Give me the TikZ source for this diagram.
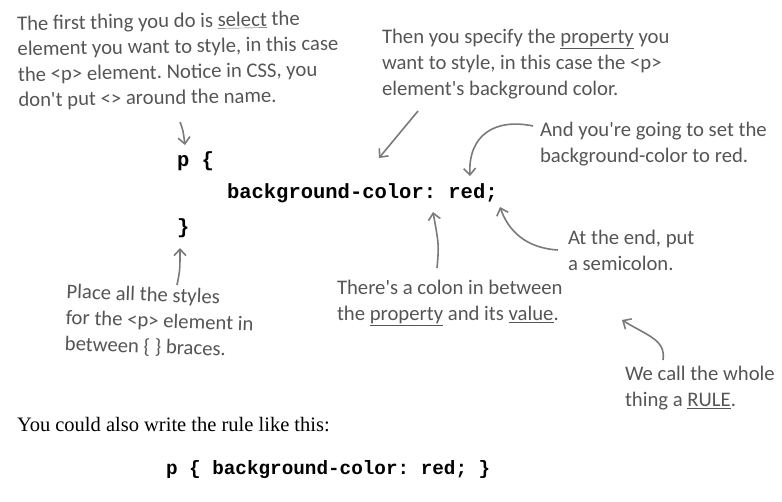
\documentclass[tikz,border=0pt]{standalone}
\usepackage{fontspec}
\setmainfont{Liberation Serif}
\newfontfamily\handfont{Carlito}
\newfontfamily\codefont{Liberation Mono}
\usetikzlibrary{arrows.meta,positioning}

\definecolor{inkgray}{HTML}{555555}
\definecolor{arrowgray}{HTML}{7A7A7A}

\newcommand{\ulword}[1]{\smash{\underline{#1}}}

\tikzset{
	every node/.style={
		inner sep=0pt,
		outer sep=0pt
	},
	note/.style={
		anchor=north west,
		align=left,
		text=inkgray,
		font=\handfont\frenchspacing\fontsize{20.7}{26}\selectfont
	},
	code/.style={
		anchor=base west,
		font=\codefont\bfseries\frenchspacing\fontsize{20.5}{24}\selectfont
	},
	body/.style={
		anchor=base west,
		font=\fontsize{20.5}{24}\selectfont
	},
	callout/.style={
		draw=arrowgray,
		line width=1.6pt,
		-{Straight Barb[length=6.5pt,width=12pt]}
	}
}

\begin{document}
\begin{tikzpicture}[x=1pt,y=-1pt]
	\useasboundingbox (0,0) rectangle (782,501);
	
	% the rule
	\node[code] (open) at (177,166) {p \{};
	\node[code] (decl) at (227,198) {background-color: red;};
	\node[code] (close) at (177,233) {\}};
	
	% notes
	\node[note, rotate=1, font=\handfont\frenchspacing\fontsize{20.7}{25.5}\selectfont] (select) at (17,16) {The first thing you do is \ulword{select} the\\
		element you want to style, in this case\\
		the <p> element. Notice in CSS, you\\
		don't put <> around the name.};
	\node[note] (property) at (382,29) {Then you specify the \ulword{property} you\\
		want to style, in this case the <p>\\
		element's background color.};
	\node[note] (value) at (540,122) {And you're going to set the\\
		background-color to red.};
	\node[note] (semi) at (568,230) {At the end, put\\
		a semicolon.};
	\node[note] (colon) at (337,280) {There's a colon in between\\
		the \ulword{property} and its \ulword{value}.};
	\node[note] (whole) at (625,366) {We call the whole\\
		thing a \ulword{RULE}.};
	\node[note, rotate=-2] (braces) at (67,284) {Place all the styles\\
		for the <p> element in\\
		between \{ \} braces.};
	
	% arrow ends
	\coordinate (s1) at (180,122);
	\coordinate (e1) at (185,145);
	\coordinate (s2) at (418,111);
	\coordinate (e2) at (379,158);
	\coordinate (s3) at (533,126);
	\coordinate (e3) at (470,176);
	\coordinate (s4) at (558,250);
	\coordinate (e4) at (500,207);
	\coordinate (s5) at (437,268);
	\coordinate (e5) at (433,212);
	\coordinate (s6) at (663,360);
	\coordinate (e6) at (622,320);
	\coordinate (s7) at (177,285);
	\coordinate (e7) at (180,248);
	
	\draw[callout] (s1) .. controls (183,130) .. (e1);
	\draw[callout] (s2) -- (e2);
	\draw[callout] (s3) .. controls (495,118) and (468,135) .. (e3);
	\draw[callout] (s4) .. controls (525,248) and (508,230) .. (e4);
	\draw[callout] (s5) .. controls (439,245) .. (e5);
	\draw[callout] (s6) .. controls (666,340) and (648,336) .. (e6);
	\draw[callout] (s7) .. controls (180,270) .. (e7);
	
	% second form
	\node[body] (also) at (17,431) {You could also write the rule like this:};
	\node[code, font=\codefont\bfseries\frenchspacing\fontsize{19.3}{24}\selectfont] (oneline) at (166,474) {p \{ background-color: red; \}};
	
\end{tikzpicture}
\end{document}
